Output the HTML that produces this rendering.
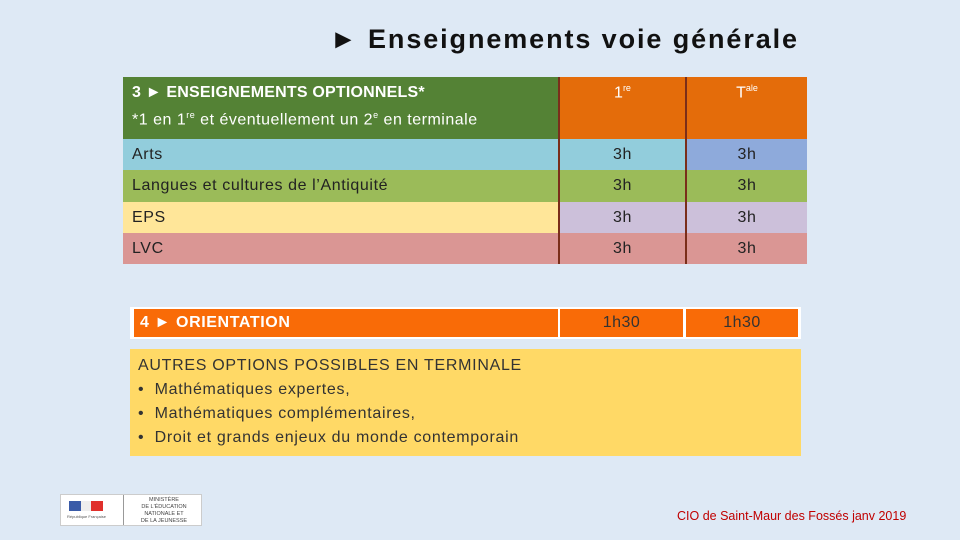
<!DOCTYPE html>
<html><head><meta charset="utf-8"><style>
body{margin:0;width:960px;height:540px;background:#dee9f5;position:relative;overflow:hidden;font-family:"Liberation Sans",sans-serif;}
.a{position:absolute;box-sizing:border-box;}
.t{font-size:16px;color:#222;letter-spacing:0.6px;}
.c{text-align:center;}
sup{font-size:9px;}
</style></head><body>
<div class="a" style="left:330px;top:24px;font-size:27px;font-weight:bold;color:#111;letter-spacing:1.9px;white-space:nowrap;">► Enseignements voie générale</div>

<div class="a" style="left:123px;top:77px;width:435px;height:62px;background:#548235;color:#fff;padding:4px 9px;font-size:16px;line-height:23px;letter-spacing:0.5px;white-space:nowrap;"><b style="letter-spacing:0.2px">3 ► ENSEIGNEMENTS OPTIONNELS*</b><br>*1 en 1<sup>re</sup> et éventuellement un 2<sup>e</sup> en terminale</div>
<div class="a c" style="left:558px;top:77px;width:127px;height:62px;background:#e46c0a;color:#fff;padding-top:6px;font-size:16px;border-left:2px solid #7a2e1a;">1<sup>re</sup></div>
<div class="a c" style="left:685px;top:77px;width:122px;height:62px;background:#e46c0a;color:#fff;padding-top:6px;font-size:16px;border-left:2px solid #7a2e1a;">T<sup>ale</sup></div>

<div class="a t" style="left:123px;top:139px;width:435px;height:31px;background:#92cddc;padding:7px 9px;">Arts</div>
<div class="a t c" style="left:558px;top:139px;width:127px;height:31px;background:#92cddc;padding-top:7px;border-left:2px solid #7a2e1a;">3h</div>
<div class="a t c" style="left:685px;top:139px;width:122px;height:31px;background:#8eaadb;padding-top:7px;border-left:2px solid #7a2e1a;">3h</div>

<div class="a t" style="left:123px;top:170px;width:435px;height:32px;background:#9bbb59;padding:7px 9px;">Langues et cultures de l’Antiquité</div>
<div class="a t c" style="left:558px;top:170px;width:127px;height:32px;background:#9bbb59;padding-top:7px;border-left:2px solid #7a2e1a;">3h</div>
<div class="a t c" style="left:685px;top:170px;width:122px;height:32px;background:#9bbb59;padding-top:7px;border-left:2px solid #7a2e1a;">3h</div>

<div class="a t" style="left:123px;top:202px;width:435px;height:31px;background:#ffe699;padding:7px 9px;">EPS</div>
<div class="a t c" style="left:558px;top:202px;width:127px;height:31px;background:#ccc0da;padding-top:7px;border-left:2px solid #7a2e1a;">3h</div>
<div class="a t c" style="left:685px;top:202px;width:122px;height:31px;background:#ccc0da;padding-top:7px;border-left:2px solid #7a2e1a;">3h</div>

<div class="a t" style="left:123px;top:233px;width:435px;height:31px;background:#da9694;padding:7px 9px;">LVC</div>
<div class="a t c" style="left:558px;top:233px;width:127px;height:31px;background:#da9694;padding-top:7px;border-left:2px solid #7a2e1a;">3h</div>
<div class="a t c" style="left:685px;top:233px;width:122px;height:31px;background:#da9694;padding-top:7px;border-left:2px solid #7a2e1a;">3h</div>

<div class="a" style="left:130px;top:307px;width:671px;height:32px;background:#fff;"></div>
<div class="a" style="left:134px;top:309px;width:424px;height:28px;background:#f96b07;color:#fff;font-weight:bold;font-size:16px;padding:5px 6px;letter-spacing:0.6px;">4 ► ORIENTATION</div>
<div class="a c" style="left:560px;top:309px;width:123px;height:28px;background:#f96b07;color:#333;font-size:16px;padding-top:5px;letter-spacing:0.5px;">1h30</div>
<div class="a c" style="left:686px;top:309px;width:112px;height:28px;background:#f96b07;color:#333;font-size:16px;padding-top:5px;letter-spacing:0.5px;">1h30</div>

<div class="a" style="left:130px;top:349px;width:671px;height:107px;background:#ffd966;color:#333;font-size:16px;line-height:24px;padding:5px 8px;letter-spacing:0.7px;white-space:nowrap;">AUTRES OPTIONS POSSIBLES EN TERMINALE<br>•&nbsp;&nbsp;Mathématiques expertes,<br>•&nbsp;&nbsp;Mathématiques complémentaires,<br>•&nbsp;&nbsp;Droit et grands enjeux du monde contemporain</div>

<div class="a" style="left:60px;top:494px;width:142px;height:32px;background:#fff;border:1px solid #ccc;">
<div class="a" style="left:8px;top:6px;width:12px;height:10px;background:#3a5ba8;"></div>
<div class="a" style="left:20px;top:6px;width:10px;height:10px;background:#eee;"></div>
<div class="a" style="left:30px;top:6px;width:12px;height:10px;background:#e0302c;"></div>
<div class="a" style="left:6px;top:19px;width:40px;height:6px;font-size:4px;color:#555;">République Française</div>
<div class="a" style="left:62px;top:0;width:1px;height:30px;background:#999;"></div>
<div class="a" style="left:66px;top:2px;width:74px;font-size:5.5px;line-height:7px;color:#444;text-align:center;">MINISTÈRE<br>DE L'ÉDUCATION<br>NATIONALE ET<br>DE LA JEUNESSE</div>
</div>
<div class="a" style="left:677px;top:509px;font-size:12.5px;color:#c00000;letter-spacing:0px;white-space:nowrap;">CIO de Saint-Maur des Fossés janv 2019</div>
</body></html>
